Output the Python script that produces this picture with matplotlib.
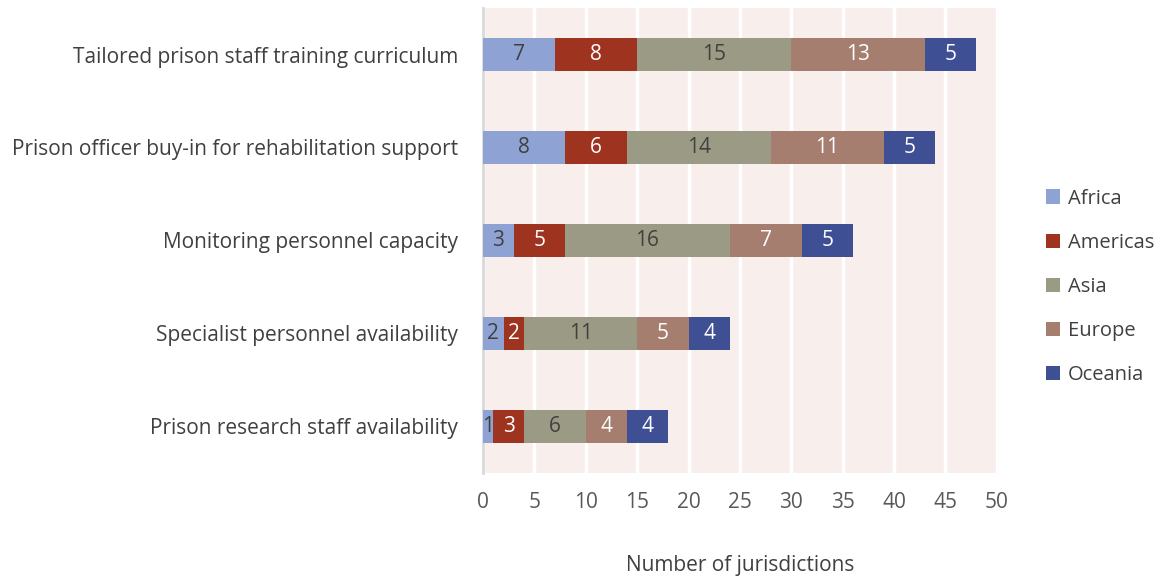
import numpy as np
import matplotlib.pyplot as plt

plt.rcParams['font.family'] = ['Open Sans', 'DejaVu Sans']

categories = ['Tailored prison staff training curriculum',
              'Prison officer buy-in for rehabilitation support',
              'Monitoring personnel capacity',
              'Specialist personnel availability',
              'Prison research staff availability']
regions = ['Africa', 'Americas', 'Asia', 'Europe', 'Oceania']
africa = [7, 8, 3, 2, 1]
americas = [8, 6, 5, 2, 3]
asia = [15, 14, 16, 11, 6]
europe = [13, 11, 7, 5, 4]
oceania = [5, 5, 5, 4, 4]

colors = ['#8FA2D4', '#9E3320', '#9B9B85', '#A67E70', '#3F4F94']
text_colors = ['#404040', 'white', '#404040', 'white', 'white']

fig = plt.figure(figsize=(11.68, 5.8), dpi=100)
ax = fig.add_axes([0.4135, 0.185, 0.44, 0.801])
ax.set_facecolor('#F8EEEC')

y = np.arange(len(categories))
left = np.zeros(len(categories))
for vals, name, c, tc in zip([africa, americas, asia, europe, oceania], regions, colors, text_colors):
    bars = ax.barh(y, vals, left=left, height=0.36, color=c, label=name, zorder=3)
    ax.bar_label(bars, labels=[str(v) for v in vals], label_type='center',
                 color=tc, fontsize=15)
    left += np.array(vals)

ax.set_xlim(0, 50)
ax.set_ylim(4.5, -0.5)
ax.set_xticks(range(0, 51, 5))
ax.set_yticks(y)
ax.set_yticklabels(categories, fontsize=15, color='#404040')
ax.tick_params(axis='x', labelsize=15, colors='#595959', length=0, pad=14)
ax.tick_params(axis='y', length=0, pad=18)
ax.grid(axis='x', color='white', linewidth=2.5, zorder=1)
for s in ['top', 'right', 'bottom']:
    ax.spines[s].set_visible(False)
ax.spines['left'].set_color('#D9D9D9')
ax.spines['left'].set_linewidth(2)
ax.set_xlabel('Number of jurisdictions', fontsize=15, color='#404040', labelpad=30)

ax.legend(loc='center left', bbox_to_anchor=(1.06, 0.4), frameon=False,
          fontsize=14.5, labelcolor='#404040', handlelength=0.7, handleheight=0.7,
          handletextpad=0.4, labelspacing=1.2)

fig.savefig('out.png', dpi=100)
